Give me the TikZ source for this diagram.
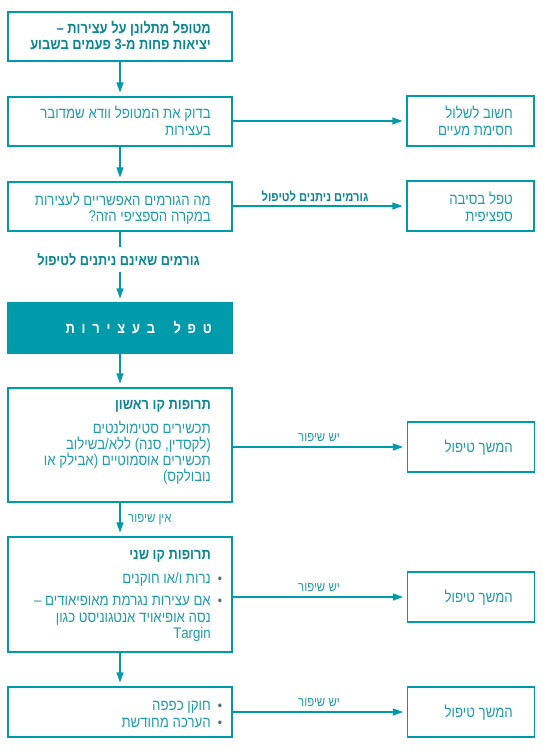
\documentclass[tikz,border=0pt]{standalone}
\usepackage{fontspec}
\newfontfamily\heb[Script=Hebrew,FakeStretch=0.86]{Liberation Sans}
\TeXXeTstate=1
\usetikzlibrary{arrows.meta}
\definecolor{teal1}{HTML}{009BAA}
\definecolor{tealtxt}{HTML}{1C9DAC}
\definecolor{tealbold}{HTML}{0A8694}
\definecolor{bulletc}{HTML}{4F6F76}
\newcommand{\heR}[1]{\beginR #1\endR}
\begin{document}
\begin{tikzpicture}[x=1pt,y=-1pt,
  box/.style={draw=teal1, line width=1.1pt, minimum width=224pt, minimum height=49pt, inner sep=0pt},
  rbox/.style={box, minimum width=127pt, minimum height=50pt},
  ln/.style={anchor=base east, inner sep=0pt, text=tealtxt, font=\heb\fontsize{15.4}{17}\selectfont},
  bln/.style={ln, text=tealbold, font=\heb\bfseries\fontsize{15}{17}\selectfont},
  bul/.style={anchor=base, inner sep=0pt, text=bulletc, font=\heb\fontsize{14}{16}\selectfont},
  conn/.style={draw=teal1, line width=1.1pt},
  arr/.style={conn, -{Triangle[length=10pt,width=7pt]}, shorten >=4pt},
  lbl/.style={anchor=base, inner sep=0pt, text=tealtxt, font=\heb\fontsize{13.3}{15}\selectfont},
  blbl/.style={anchor=base, inner sep=0pt, text=tealbold, font=\heb\bfseries\fontsize{13}{15}\selectfont}
]
\path[use as bounding box, fill=white] (0,0) rectangle (546,750);

% boxes
\node[box] (b1) at (120,36.5) {};
\node[box] (b2) at (120,121.5) {};
\node[box] (b3) at (120,206.5) {};
\node[box, fill=teal1, minimum height=50pt] (tb) at (120,328) {};
\node[box, minimum height=114pt] (b4) at (120,445) {};
\node[box, minimum height=115pt] (b5) at (120,594.5) {};
\node[box, minimum height=50pt] (b6) at (120,712) {};
\node[rbox] (r1) at (470.5,121) {};
\node[rbox] (r2) at (470.5,206) {};
\node[rbox] (r3) at (471,447) {};
\node[rbox] (r4) at (471,597) {};
\node[rbox] (r5) at (471,712) {};

% texts in left boxes
\node[bln] (t1a) at (211,33) {\heR{מטופל מתלונן על עצירות –}};
\node[bln] (t1b) at (211,49) {\heR{יציאות פחות מ-3 פעמים בשבוע}};
\node[ln] (t2a) at (211,118) {\heR{בדוק את המטופל וודא שמדובר}};
\node[ln] (t2b) at (211,135) {\heR{בעצירות}};
\node[ln] (t3a) at (211,205) {\heR{מה הגורמים האפשריים לעצירות}};
\node[ln] (t3b) at (211,221) {\heR{במקרה הספציפי הזה?}};
\node[anchor=base east, inner sep=0pt, text=white, font=\heb\bfseries\fontsize{15}{17}\selectfont] (tt) at (212,333)
  {\heR{ט\kern6.8pt פ\kern6.8pt ל\kern18.5pt ב\kern6.8pt ע\kern6.8pt צ\kern6.8pt י\kern6.8pt ר\kern6.8pt ו\kern6.8pt ת}};
\node[bln] (t4h) at (211,409) {\heR{תרופות קו ראשון}};
\node[ln] (t4a) at (211,433) {\heR{תכשירים סטימולנטים}};
\node[ln] (t4b) at (211,449) {\heR{(לקסדין, סנה) ללא/בשילוב}};
\node[ln] (t4c) at (211,465) {\heR{תכשירים אוסמוטיים (אבילק או}};
\node[ln] (t4d) at (211,481) {\heR{נובולקס)}};
\node[bln] (t5h) at (211,559) {\heR{תרופות קו שני}};
\node[ln] (t5a) at (211,583) {\heR{נרות ו/או חוקנים}};
\node[bul] (u5a) at (220,583) {•};
\node[ln] (t5b) at (211,605) {\heR{אם עצירות נגרמת מאופיאודים –}};
\node[bul] (u5b) at (220,605) {•};
\node[ln] (t5c) at (211,622) {\heR{נסה אופיאויד אנטגוניסט כגון}};
\node[ln] (t5d) at (211,638) {Targin};
\node[ln] (t6a) at (211,710) {\heR{חוקן כפפה}};
\node[bul] (u6a) at (220,710) {•};
\node[ln] (t6b) at (211,727) {\heR{הערכה מחודשת}};
\node[bul] (u6b) at (220,727) {•};

% texts in right boxes
\node[ln] (s1a) at (513,118) {\heR{חשוב לשלול}};
\node[ln] (s1b) at (513,135) {\heR{חסימת מעיים}};
\node[ln] (s2a) at (513,204) {\heR{טפל בסיבה}};
\node[ln] (s2b) at (513,221) {\heR{ספציפית}};
\node[ln] (s3) at (513,452) {\heR{המשך טיפול}};
\node[ln] (s4) at (513,602) {\heR{המשך טיפול}};
\node[ln] (s5) at (513,717) {\heR{המשך טיפול}};

% labels
\node[blbl] (l1) at (315,201) {\heR{גורמים ניתנים לטיפול}};
\node[blbl, font=\heb\bfseries\fontsize{14.8}{17}\selectfont, inner ysep=6pt] (l2) at (118.5,265) {\heR{גורמים שאינם ניתנים לטיפול}};
\node[lbl, anchor=base west] (l3) at (128,522) {\heR{אין שיפור}};
\node[lbl] (l4) at (319,441) {\heR{יש שיפור}};
\node[lbl] (l5) at (319,591) {\heR{יש שיפור}};
\node[lbl] (l6) at (319,706) {\heR{יש שיפור}};

% connectors
\draw[arr] (b1.south) -- (b2.north);
\draw[arr] (b2.south) -- (b3.north);
\draw[conn] (b3.south) -- (b3.south |- l2.north);
\draw[arr] (b3.south |- l2.south) -- (tb.north);
\draw[arr] (tb.south) -- (b4.north);
\draw[arr] (b4.south) -- (b5.north);
\draw[arr] (b5.south) -- (b6.north);
\draw[arr] (r1.west -| b2.east) -- (r1.west);
\draw[arr] (r2.west -| b3.east) -- (r2.west);
\draw[arr] (r3.west -| b4.east) -- (r3.west);
\draw[arr] (r4.west -| b5.east) -- (r4.west);
\draw[arr] (r5.west -| b6.east) -- (r5.west);
\end{tikzpicture}
\end{document}
